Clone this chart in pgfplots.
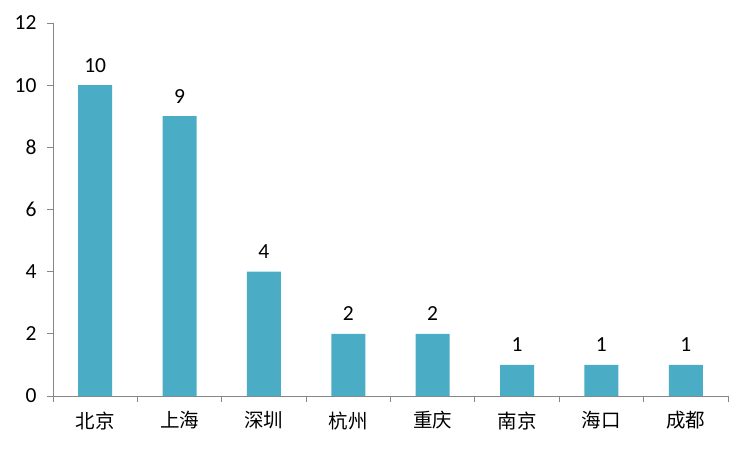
\documentclass[border=0pt]{standalone}
\usepackage{pgfplots}
\pgfplotsset{compat=1.18}
\usepackage{fontspec}
\setmainfont{Carlito}
\newfontfamily\cjk{Noto Sans CJK SC}
\definecolor{barc}{HTML}{4AACC5}
\definecolor{axc}{HTML}{868686}
\begin{document}
\begin{tikzpicture}
\path[use as bounding box] (0,0) rectangle (750bp,450bp);
\begin{axis}[
    at={(53bp,54bp)}, anchor=south west,
    scale only axis, width=675bp, height=373bp,
    xmin=0, xmax=8, ymin=0, ymax=12,
    axis x line*=bottom, axis y line*=left,
    axis line style={axc, line width=0.9bp},
    ytick={0,2,...,12},
    xtick={0.5,1.5,...,7.5},
    xticklabels={北京,上海,深圳,杭州,重庆,南京,海口,成都},
    minor xtick={0,1,...,8},
    tick align=outside,
    major tick length=6bp, minor tick length=6bp,
    major x tick style={draw=none},
    minor x tick style={axc, line width=0.9bp},
    y tick style={axc, line width=0.9bp},
    x tick label style={font=\cjk\fontsize{19.5bp}{22bp}\selectfont, yshift=-6bp},
    y tick label style={font=\fontsize{21.5bp}{24bp}\selectfont, xshift=-7bp},
    /pgf/number format/assume math mode=true,
    clip=false,
]
\addplot[ybar, bar width=34bp, fill=barc, draw=none,
    nodes near coords,
    every node near coord/.append style={font=\fontsize{21.5bp}{24bp}\selectfont, anchor=base, yshift=13bp, inner sep=0pt}]
    coordinates {(0.5,10) (1.5,9) (2.5,4) (3.5,2) (4.5,2) (5.5,1) (6.5,1) (7.5,1)};
\end{axis}
\end{tikzpicture}
\end{document}
